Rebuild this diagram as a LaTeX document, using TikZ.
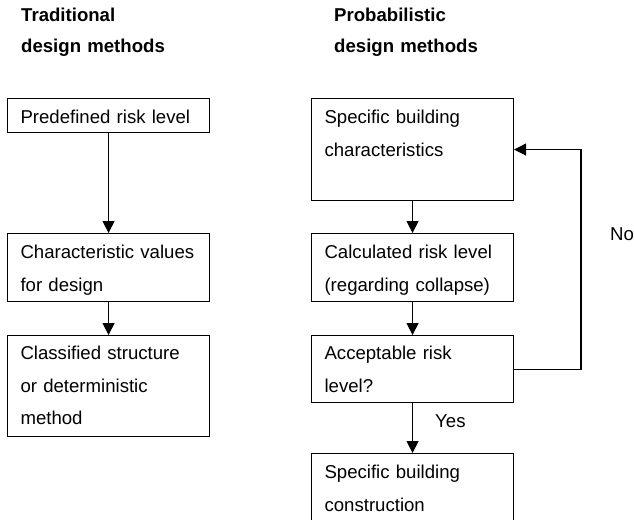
\documentclass[tikz,border=0pt]{standalone}
\usepackage{fontspec}
\setmainfont{Liberation Sans}
\usetikzlibrary{arrows.meta}
\begin{document}
\begin{tikzpicture}[x=1pt,y=-1pt,
  every node/.style={font=\fontsize{18.6}{32.5}\selectfont, inner sep=0pt},
  box/.style={draw, line width=1.1pt, anchor=north west, inner xsep=13pt, inner ysep=0pt,
    text width=176pt, align=left, text height=25pt},
  arr/.style={line width=1.1pt, -{Triangle[width=12pt,length=12pt]}},
  title/.style={anchor=north west, align=left, text width=200pt,
    font=\fontsize{18.6}{31}\selectfont\bfseries, text height=14pt}]
\useasboundingbox (0,0) rectangle (634,519);
% titles
\node[title] (t1) at (21,7) {Traditional\\design methods};
\node[title] (t2) at (334,7) {Probabilistic\\design methods};
% left column
\node[box, text depth=9pt] (p1) at (7,98) {Predefined risk level};
\node[box, text depth=43pt] (p2) at (7,233) {Characteristic values\\for design};
\node[box, text height=24pt, text depth=77pt] (p3) at (7,335) {Classified structure\\or deterministic\\method};
% right column
\node[box, text depth=77pt] (s1) at (311,98) {Specific building\\characteristics};
\node[box, text depth=43pt] (s2) at (311,233) {Calculated risk level\\(regarding collapse)};
\node[box, text height=24pt, text depth=43pt] (s3) at (311,335) {Acceptable risk\\level?};
\node[box, text depth=70pt] (s4) at (311,453) {Specific building\\construction};
% labels
\node[anchor=base west] (yes) at (435,427) {Yes};
\node[anchor=base west] (no) at (610,240) {No};
% connectors
\draw[arr] (p1.south) -- (p2.north);
\draw[arr] (p2.south) -- (p3.north);
\draw[arr] (s1.south) -- (s2.north);
\draw[arr] (s2.south) -- (s3.north);
\draw[arr] (s3.south) -- (s4.north);
\coordinate (fb) at (581,150);
\draw[arr] (s3.east) -- (s3.east -| fb) |- (s1.east);
\end{tikzpicture}
\end{document}
